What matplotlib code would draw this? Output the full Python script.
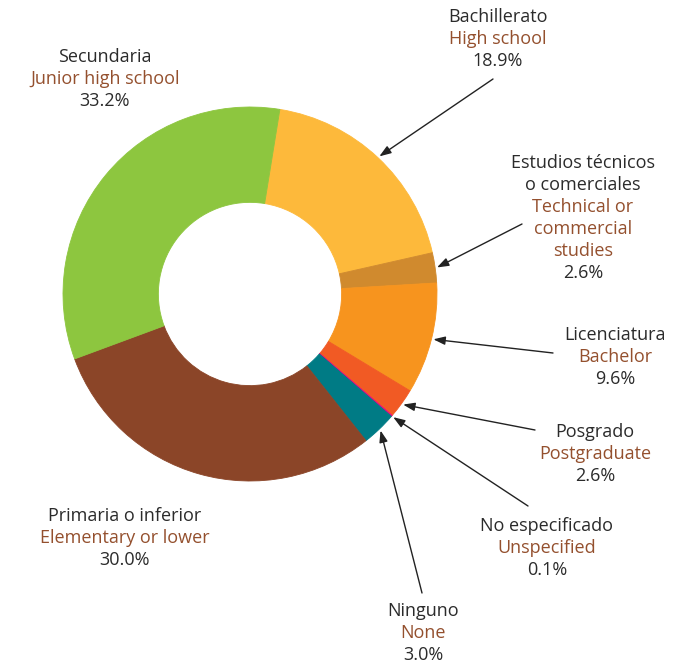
import numpy as np
import matplotlib as mpl
mpl.use('Agg')
import matplotlib.pyplot as plt

# education level shares, clockwise from the top
levels_es = ['Bachillerato', 'Estudios técnicos\no comerciales', 'Licenciatura',
             'Posgrado', 'No especificado', 'Ninguno', 'Primaria o inferior',
             'Secundaria']
levels_en = ['High school', 'Technical or\ncommercial\nstudies', 'Bachelor',
             'Postgraduate', 'Unspecified', 'None', 'Elementary or lower',
             'Junior high school']
shares = [18.9, 2.6, 9.6, 2.6, 0.1, 3.0, 30.0, 33.2]
colors = ['#fdb93b', '#d08a2e', '#f7941e', '#f15a24', '#ec008c', '#007b85',
          '#8b4528', '#8dc63f']

# label block anchor (top line centre, pixels from top-left)
label_pos = [(498, 17), (583, 163), (615, 335), (595, 432), (547, 526),
             (423, 611), (125, 516), (105, 57)]
# where each leader line leaves its label (pixels from top-left), None = no arrow
arrow_from = [(493, 79), (522, 224), (553, 353), (535, 430), (528, 506),
              (422, 593), None, None]

W, H = 680, 665
DARK = '#2b2b2b'
BROWN = '#94502e'
LINE = 22

plt.rcParams['font.family'] = ['Open Sans', 'DejaVu Sans']

fig = plt.figure(figsize=(W / 100, H / 100), dpi=100)
ax = fig.add_axes([0, 0, 1, 1])
ax.axis('off')

center = (250, H - 294)
R = 187
wedges, _ = ax.pie(shares, colors=colors, startangle=80.8, counterclock=False,
                   center=center, radius=R,
                   wedgeprops=dict(width=R * 0.51, linewidth=0))
# thin seams between the slices; the tiny slice keeps its own colour as outline
for w, c in zip(wedges, colors):
    tiny = w.theta1 - w.theta2 < 1 or w.theta2 - w.theta1 < 1
    w.set_edgecolor(c if tiny else 'white')
    w.set_linewidth(0.6 if tiny else 0.3)
ax.set_xlim(0, W)
ax.set_ylim(0, H)
ax.set_aspect('equal')

for w, es, en, val, (lx, ly), src in zip(wedges, levels_es, levels_en, shares,
                                         label_pos, arrow_from):
    lines = [(t, DARK) for t in es.split('\n')] + \
            [(t, BROWN) for t in en.split('\n')] + [(f'{val:.1f}%', DARK)]
    for i, (t, c) in enumerate(lines):
        ax.text(lx, H - (ly + i * LINE), t, color=c, fontsize=13,
                ha='center', va='center')
    if src is not None:
        mid = np.deg2rad((w.theta1 + w.theta2) / 2)
        tip = (center[0] + 1.01 * R * np.cos(mid), center[1] + 1.01 * R * np.sin(mid))
        ax.annotate('', xy=tip, xytext=(src[0], H - src[1]),
                    arrowprops=dict(arrowstyle='-|>,head_length=0.7,head_width=0.25',
                                    color='#222222', lw=1.0, shrinkA=0, shrinkB=0))

fig.savefig('out.png', dpi=100)
